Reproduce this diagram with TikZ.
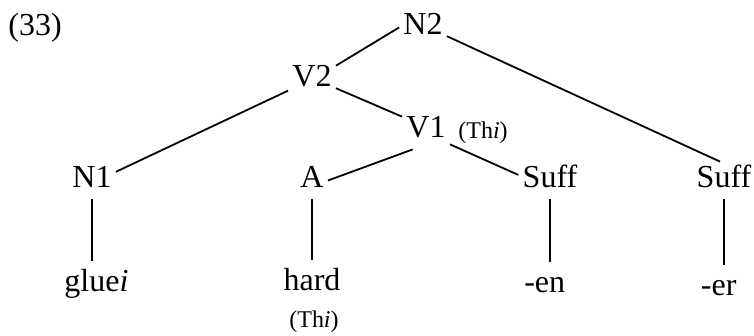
\documentclass[tikz,border=0pt]{standalone}
\usepackage{fontspec}
\setmainfont{Liberation Serif}
\tikzset{
  cat/.style={font=\fontsize{16}{19}\selectfont, inner sep=2pt, text height=11pt, text depth=3.5pt, anchor=base},
  note/.style={font=\fontsize{12}{14}\selectfont, inner sep=0pt, anchor=base west},
  branch/.style={line width=0.9pt},
  stem/.style={line width=0.9pt, shorten >=2pt}
}
\begin{document}
\begin{tikzpicture}[x=0.5pt, y=-0.5pt]
        \useasboundingbox (0,0) rectangle (754,336);
        % Example number
        \node[cat, anchor=base west, inner sep=0pt] (num) at (8,36) {(33)};
        % Categories
        \node[cat] (n2) at (423,35) {N2};
        \node[cat] (v2) at (312,87) {V2};
        \node[cat] (v1) at (426,138) {V1};
        \node[cat] (n1) at (92,188) {N1};
        \node[cat] (adj) at (312,188) {A};
        \node[cat] (suffen) at (550,188) {Suff};
        \node[cat] (suffer) at (724,188) {Suff};
        % Terminals
        \node[cat] (glue) at (92,291) {glue\rlap{\textit{i}}};
        \node[cat] (hard) at (312,290) {hard};
        \node[cat] (en) at (550,292) {\llap{-}en};
        \node[cat] (er) at (724,295) {\llap{-}er};
        % Theta notes
        \node[note] (thv) at (458,139) {(Th\textit{i})};
        \node[note, anchor=base] (tha) at (314,327) {(Th\textit{i})};
        % Branches
        \draw[branch] (n2.west) -- (v2.30);
        \draw[branch] (n2.-20) -- ([xshift=-2pt]suffer.north);
        \draw[branch] (v2.205) -- (n1.20);
        \draw[branch] (v2.-20) -- (v1.150);
        \draw[branch] (v1.235) -- (adj.east);
        \draw[branch] (v1.-30) -- (suffen.170);
        % Unary stems
        \draw[stem] (n1.south) -- (glue.north);
        \draw[stem] (adj.south) -- (hard.north);
        \draw[stem] (suffen.south) -- (en.north);
        \draw[stem] (suffer.south) -- (er.north);
      \end{tikzpicture}
\end{document}
